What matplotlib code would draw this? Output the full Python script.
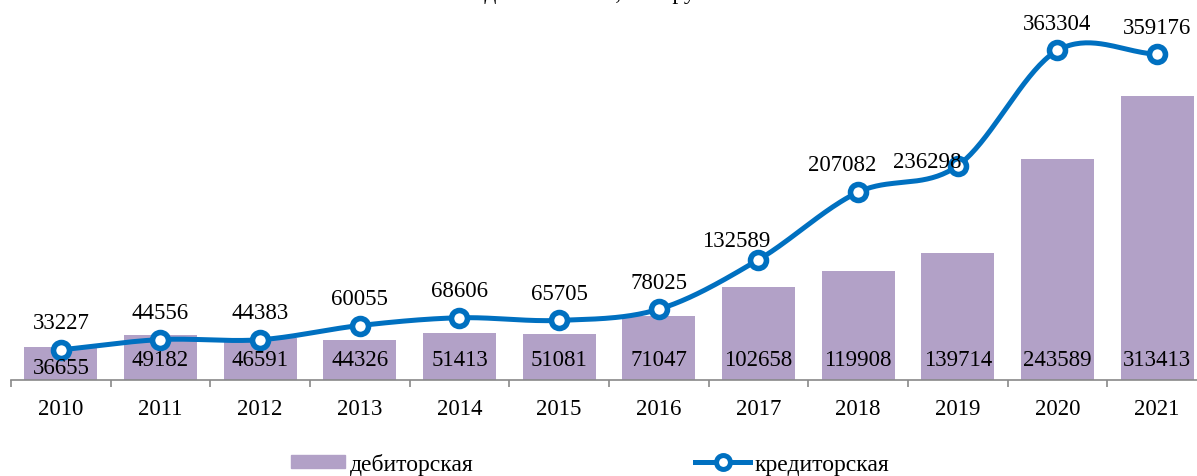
import numpy as np
import matplotlib
matplotlib.use("Agg")
import matplotlib.pyplot as plt
from matplotlib.lines import Line2D
from matplotlib.patches import Patch

# data
years = ["2010", "2011", "2012", "2013", "2014", "2015",
         "2016", "2017", "2018", "2019", "2020", "2021"]
debit = [36655, 49182, 46591, 44326, 51413, 51081,
         71047, 102658, 119908, 139714, 243589, 313413]
credit = [33227, 44556, 44383, 60055, 68606, 65705,
          78025, 132589, 207082, 236298, 363304, 359176]

BAR_COL = "#B2A1C7"
LINE_COL = "#0070C0"

plt.rcParams["font.family"] = ["Liberation Serif", "DejaVu Serif"]
plt.rcParams["font.size"] = 16.5


def smooth(xs, ys, n=40):
    # catmull-rom through the points, like the smoothed line in Excel
    xs = np.asarray(xs, float)
    ys = np.asarray(ys, float)
    px = np.concatenate([[2 * xs[0] - xs[1]], xs, [2 * xs[-1] - xs[-2]]])
    py = np.concatenate([[2 * ys[0] - ys[1]], ys, [2 * ys[-1] - ys[-2]]])
    ox, oy = [], []
    t = np.linspace(0, 1, n)
    for i in range(1, len(px) - 2):
        for p, out in ((px, ox), (py, oy)):
            p0, p1, p2, p3 = p[i - 1], p[i], p[i + 1], p[i + 2]
            out.extend(0.5 * ((2 * p1) + (-p0 + p2) * t
                              + (2 * p0 - 5 * p1 + 4 * p2 - p3) * t ** 2
                              + (-p0 + 3 * p1 - 3 * p2 + p3) * t ** 3))
    return np.array(ox), np.array(oy)


fig = plt.figure(figsize=(11.97, 4.77), dpi=100)
ax = fig.add_axes([11 / 1197, 96 / 477, 1196 / 1197, 381 / 477])

x = np.arange(len(years))
ax.bar(x, debit, width=0.73, color=BAR_COL, zorder=1)

sx, sy = smooth(x, credit)
ax.plot(sx, sy, color=LINE_COL, lw=3.6, solid_capstyle="round", zorder=3)
ax.plot(x, credit, ls="none", marker="o", ms=11.5, mfc="white",
        mec=LINE_COL, mew=4, zorder=4)

ax.set_xlim(-0.5, len(years) - 0.5)
ax.set_ylim(0, 420000)

# bar labels sit near the base of each bar
for i, v in enumerate(debit):
    dy = 12 if i == 0 else 20
    ax.annotate(str(v), (i, 0), xytext=(0, dy), textcoords="offset pixels",
                ha="center", va="center", zorder=5)

# line labels above the markers, a few nudged like in the original
nudge = {7: (-22, 19), 8: (-16, 28), 9: (-31, 4)}
for i, v in enumerate(credit):
    dx, dy = nudge.get(i, (0, 27))
    ax.annotate(str(v), (i, v), xytext=(dx, dy), textcoords="offset pixels",
                ha="center", va="center", zorder=5)

for s in ["top", "right", "left"]:
    ax.spines[s].set_visible(False)
ax.spines["bottom"].set_color("#898989")
ax.spines["bottom"].set_linewidth(1.2)
ax.set_yticks([])

ax.set_xticks(np.arange(-0.5, len(years), 1.0))
ax.set_xticklabels([])
ax.tick_params(axis="x", which="major", length=5, width=1.2,
               color="#898989", direction="out")
ax.set_xticks(x, minor=True)
ax.set_xticklabels(years, minor=True)
ax.tick_params(axis="x", which="minor", length=0, pad=13)

# title is cut off by the top edge in the reference
fig.text(0.596, 1 + 1 / 477, "Задолженность, млн руб.", ha="right",
         va="baseline", fontsize=17)

handles = [Patch(color=BAR_COL),
           Line2D([], [], color=LINE_COL, lw=3.6, marker="o", ms=10,
                  mfc="white", mec=LINE_COL, mew=3.6)]
fig.legend(handles, ["дебиторская", "кредиторская"], loc="center",
           bbox_to_anchor=(590 / 1197, 1 - 465 / 477), ncol=2,
           frameon=False, fontsize=17, handlelength=2.3, handleheight=0.5,
           handletextpad=0.2, columnspacing=9.4, borderpad=0)

fig.savefig("out.png", dpi=100)
